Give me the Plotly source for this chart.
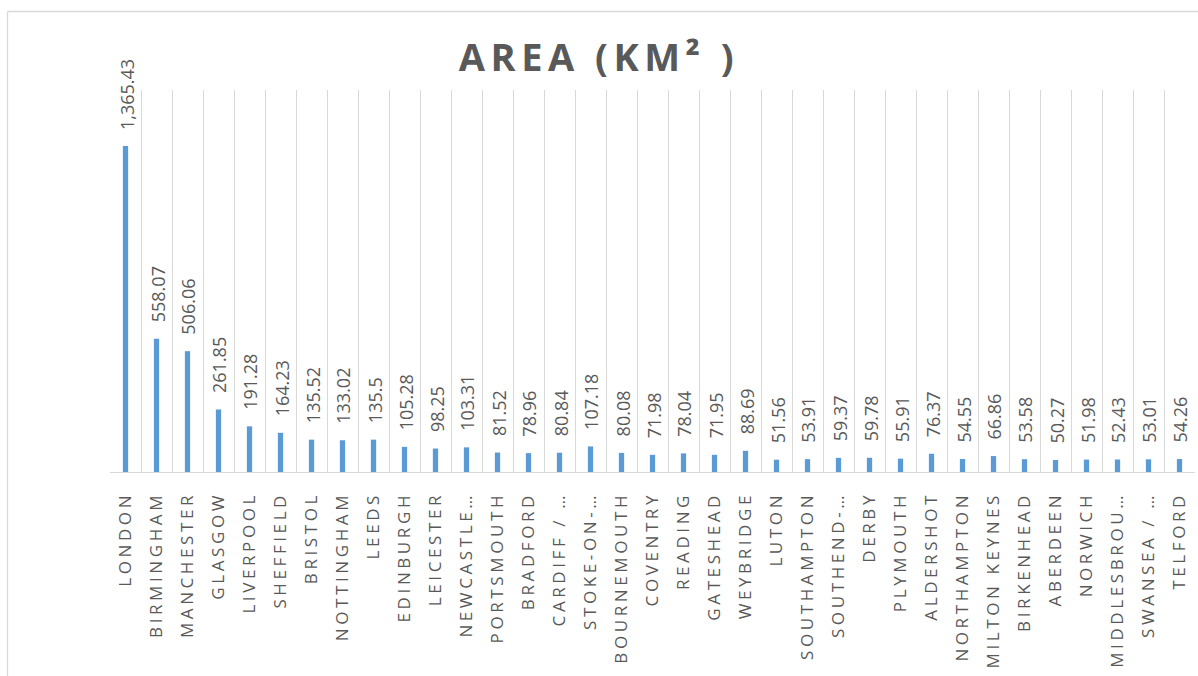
import plotly.graph_objects as go

# Urban areas and their area in square kilometres
cities = [
    "LONDON", "BIRMINGHAM", "MANCHESTER", "GLASGOW", "LIVERPOOL", "SHEFFIELD",
    "BRISTOL", "NOTTINGHAM", "LEEDS", "EDINBURGH", "LEICESTER", "NEWCASTLE…",
    "PORTSMOUTH", "BRADFORD", "CARDIFF / …", "STOKE-ON-…", "BOURNEMOUTH",
    "COVENTRY", "READING", "GATESHEAD", "WEYBRIDGE", "LUTON", "SOUTHAMPTON",
    "SOUTHEND-…", "DERBY", "PLYMOUTH", "ALDERSHOT", "NORTHAMPTON",
    "MILTON KEYNES", "BIRKENHEAD", "ABERDEEN", "NORWICH", "MIDDLESBROU…",
    "SWANSEA / …", "TELFORD",
]
area_km2 = [
    1365.43, 558.07, 506.06, 261.85, 191.28, 164.23,
    135.52, 133.02, 135.5, 105.28, 98.25, 103.31,
    81.52, 78.96, 80.84, 107.18, 80.08,
    71.98, 78.04, 71.95, 88.69, 51.56, 53.91,
    59.37, 59.78, 55.91, 76.37, 54.55,
    66.86, 53.58, 50.27, 51.98, 52.43,
    53.01, 54.26,
]
chart_title = "AREA (KM² )"


def fmt(v):
    s = f"{v:,.2f}"
    return s.rstrip("0").rstrip(".") if "." in s else s


W, H = 1198, 676
ML, MR, MT, MB = 110, 3, 90, 204
GRAY = "#595959"
GRID = "#d9d9d9"
BAR = "#5b9bd5"

fig = go.Figure(
    go.Bar(
        x=cities,
        y=area_km2,
        width=0.17,
        marker=dict(color=BAR, line=dict(width=0)),
        hoverinfo="x+y",
    )
)

# value labels above each bar
for c, v in zip(cities, area_km2):
    fig.add_annotation(
        x=c, y=v, text=fmt(v), showarrow=False, textangle=-90,
        yanchor="bottom", yshift=14, xshift=1,
        font=dict(family="Open Sans", size=18, color=GRAY),
    )

# chart frame (top and left edges visible in the window)
pw = W - ML - MR
ph = H - MT - MB
x_left = (7.5 - ML) / pw
y_top = (H - 11.5 - MB) / ph
fig.add_shape(type="line", xref="paper", yref="paper",
              x0=x_left, x1=1.2, y0=y_top, y1=y_top,
              line=dict(color=GRID, width=1.3), layer="below")
fig.add_shape(type="line", xref="paper", yref="paper",
              x0=x_left, x1=x_left, y0=y_top, y1=-1,
              line=dict(color=GRID, width=1.3), layer="below")

fig.update_layout(
    width=W, height=H,
    margin=dict(l=ML, r=MR, t=MT, b=MB, pad=0),
    paper_bgcolor="white", plot_bgcolor="white",
    showlegend=False,
    title=dict(
        text=f"<b>{chart_title}</b>", x=0.5, xanchor="center",
        y=1 - 58 / H, yanchor="middle",
        font=dict(family="Open Sans", size=38, color=GRAY),
    ),
    xaxis=dict(
        type="category", tickson="boundaries", showgrid=True,
        gridcolor=GRID, gridwidth=1.3, showline=True, linecolor=GRID,
        linewidth=1.3, ticks="", tickangle=-90, ticklabelstandoff=12,
        tickfont=dict(family="Open Sans", size=17, color=GRAY),
        range=[-0.5, len(cities) - 0.5],
    ),
    yaxis=dict(range=[0, 1600], visible=False, showgrid=False),
)

# widen the letter spacing of tick labels and title
post = """
var css = document.createElement('style');
css.textContent = '.xtick text{letter-spacing:3.6px !important;}'
                + '.gtitle{letter-spacing:5.5px !important;}';
document.head.appendChild(css);
"""
fig.write_html("out.html", post_script=post)
